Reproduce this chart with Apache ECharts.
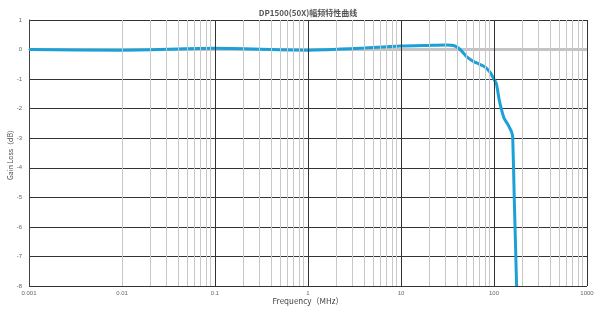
<!DOCTYPE html>
<html><head><meta charset="utf-8">
<script src="https://cdn.jsdelivr.net/npm/echarts@6/dist/echarts.min.js"></script>
<style>html,body{margin:0;padding:0;background:#fff}#c{width:600px;height:313px}</style>
</head><body><div id="c"></div>
<script>
const titleText = 'DP1500(50X)幅频特性曲线';
const freqs = [0.001, 0.01, 0.1, 1, 4, 10, 20, 30, 38, 45, 51, 60, 68, 76, 84, 92, 99, 106, 114, 122, 129, 142, 155, 159, 165, 171, 175];
const gains = [0.0, -0.02, 0.04, -0.02, 0.05, 0.12, 0.14, 0.15, 0.12, -0.05, -0.25, -0.4, -0.48, -0.55, -0.65, -0.8, -0.98, -1.15, -1.72, -2.1, -2.34, -2.55, -2.8, -2.97, -5, -6.8, -8];
const refFreqs = [0.001, 1000];
const refGains = [0, 0];
const xTickLabels = ['0.001', '0.01', '0.1', '1', '10', '100', '1000'];
const decades = [0.001, 0.01, 0.1, 1, 10, 100];
const minorMultipliers = [2, 3, 4, 5, 6, 7, 8, 9];

const minorLines = [];
decades.forEach(d => minorMultipliers.forEach(m => minorLines.push({ xAxis: +(d * m).toPrecision(6) })));
const majorLines = decades.slice(1).map(d => ({ xAxis: d }));

const chart = echarts.init(document.getElementById('c'), null, { renderer: 'canvas' });
chart.setOption({
  animation: false,
  title: { text: titleText, left: 303, top: 4, textAlign: 'center',
    textStyle: { fontSize: 8, fontWeight: 'bold', color: '#555', fontFamily: 'Noto Sans CJK SC' } },
  grid: { left: 29, right: 13, top: 20, bottom: 27, containLabel: false, outerBoundsMode: 'none' },
  xAxis: {
    type: 'log', logBase: 10, min: 0.001, max: 1000, interval: 1,
    name: 'Frequency（MHz）', nameLocation: 'middle', nameGap: 11, nameMoveOverlap: false,
    nameTextStyle: { fontSize: 8, color: '#444', fontFamily: 'Noto Sans CJK SC' },
    axisLine: { show: true, lineStyle: { color: '#444' } },
    axisTick: { show: false },
    axisLabel: { fontSize: 6, color: '#666', margin: 4,
      formatter: v => { const i = Math.round(Math.log10(v)) + 3; return xTickLabels[i] || ''; } },
    splitLine: { show: true, lineStyle: { color: '#333', width: 1 } }
  },
  yAxis: {
    type: 'value', min: -8, max: 1, interval: 1,
    name: 'Gain Loss（dB）', nameLocation: 'middle', nameGap: 15, nameRotate: 90, nameMoveOverlap: false,
    nameTextStyle: { fontSize: 7, color: '#444', fontFamily: 'Noto Sans CJK SC' },
    axisLine: { show: true, lineStyle: { color: '#444' } },
    axisTick: { show: false },
    axisLabel: { fontSize: 6, color: '#666', margin: 7 },
    splitLine: { show: true, lineStyle: { color: '#333', width: 1 } }
  },
  series: [
    { type: 'line', data: [], symbol: 'none', z: 1,
      markLine: { silent: true, symbol: 'none', label: { show: false },
        lineStyle: { color: '#333', width: 1, type: 'solid' }, data: majorLines } },
    { type: 'line', data: refFreqs.map((f, i) => [f, refGains[i]]), symbol: 'none',
      lineStyle: { color: '#c4c4c4', width: 3 }, z: 2,
      markLine: { silent: true, symbol: 'none', label: { show: false },
        lineStyle: { color: '#c8c8c8', width: 1, type: 'solid' }, data: minorLines } },
    { type: 'line', data: freqs.map((f, i) => [f, gains[i]]), symbol: 'none', smooth: 0.2,
      lineStyle: { color: '#1ba0d8', width: 3 }, z: 3 }
  ]
});
</script></body></html>
